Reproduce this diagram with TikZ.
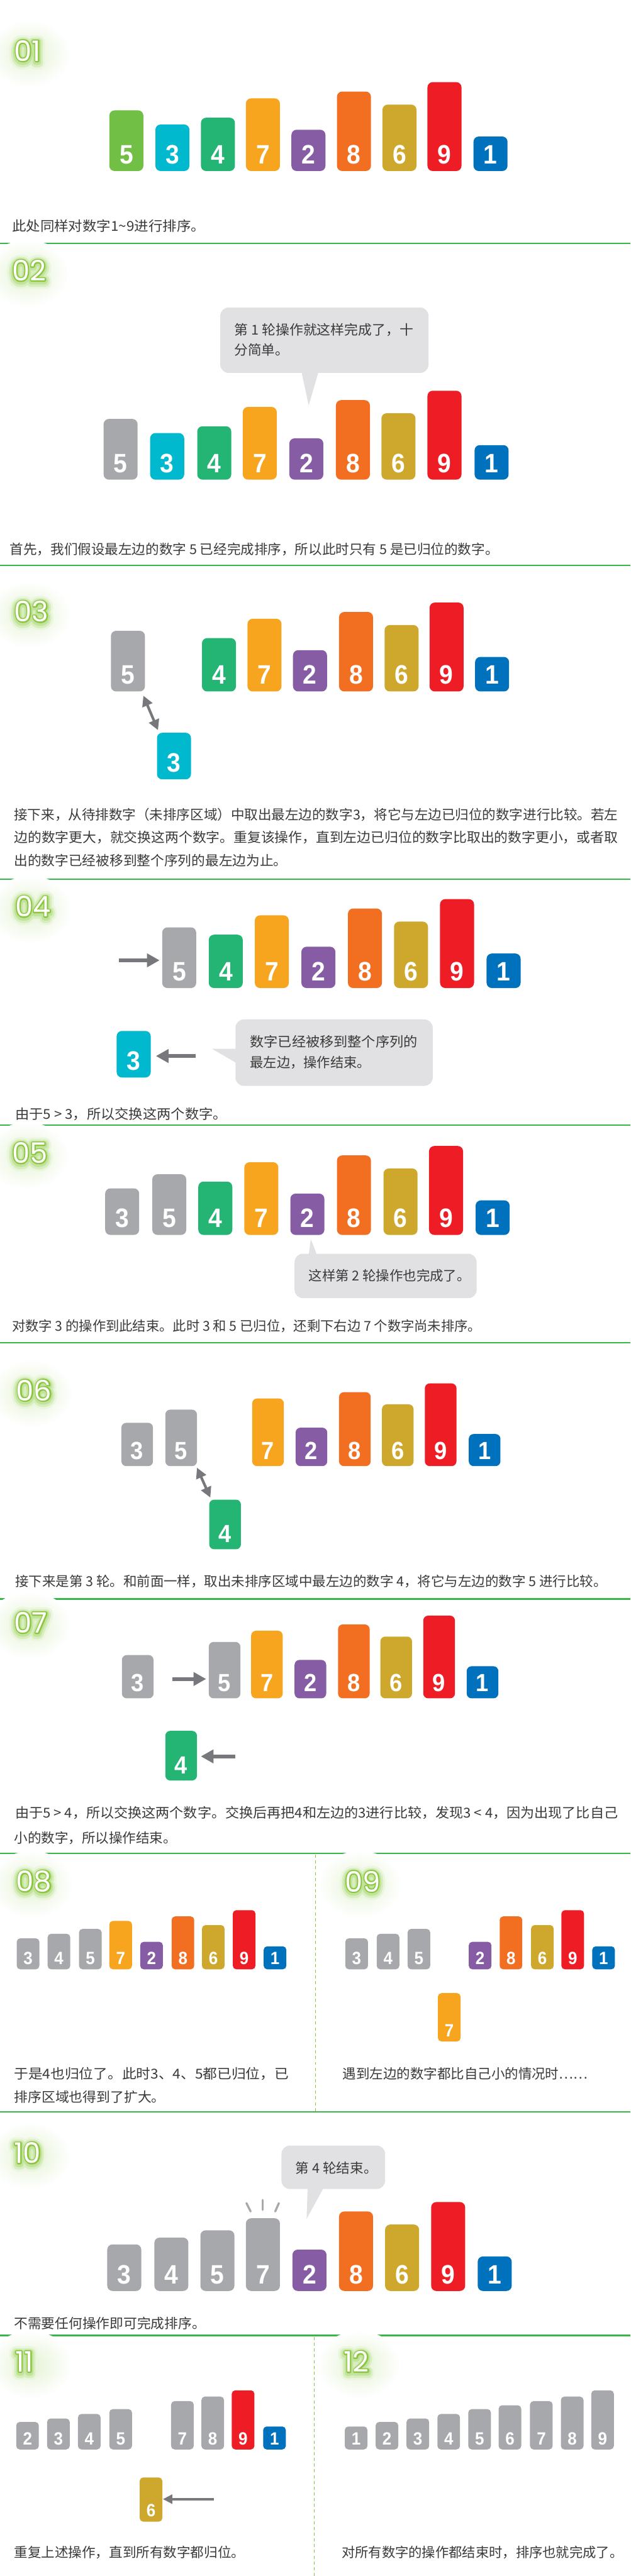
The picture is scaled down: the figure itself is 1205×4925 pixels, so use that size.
\documentclass[tikz,border=0pt]{standalone}
\usepackage{fontspec}
\usepackage{graphicx}
\usetikzlibrary{arrows.meta,calc}
\newfontfamily\cjk{Noto Sans CJK SC}
\newfontfamily\digitfont[FakeStretch=0.92]{Liberation Sans}
\newfontfamily\labfont{Poppins}
\definecolor{c1}{HTML}{0071BC}
\definecolor{c2}{HTML}{865CA5}
\definecolor{c3}{HTML}{00B9CE}
\definecolor{c4}{HTML}{24B473}
\definecolor{c5}{HTML}{71BF44}
\definecolor{c6}{HTML}{CEA82C}
\definecolor{c7}{HTML}{F7A51E}
\definecolor{c8}{HTML}{F26F22}
\definecolor{c9}{HTML}{EE1C25}
\definecolor{bargray}{HTML}{A7A8AB}
\definecolor{arrgray}{HTML}{77787B}
\definecolor{bubgray}{HTML}{E1E1E3}
\definecolor{txt}{HTML}{3A3A3A}
\definecolor{sepgreen}{HTML}{39B54A}
\definecolor{dashgreen}{HTML}{8DC63F}
\definecolor{glow}{HTML}{E4F3D4}
\newcommand\barh[1]{\ifcase#1 0\or66\or79\or89\or102\or116\or127\or139\or152\or170\fi}
% name, x, bottom, digit, colour, scale
\newcommand\nbar[6]{%
  \pgfmathsetmacro\nbW{65*#6}%
  \pgfmathsetmacro\nbH{\barh{#4}*#6}%
  \pgfmathsetmacro\nbR{10*#6}%
  \pgfmathsetmacro\nbO{14*#6}%
  \pgfmathsetmacro\nbF{51*#6}%
  \node[numbar, fill=#5, minimum width=\nbW pt, minimum height=\nbH pt, rounded corners=\nbR pt] (#1) at (#2,#3) {};
  \node[digitlab, font={\digitfont\bfseries\fontsize{\nbF}{\nbF}\selectfont}] (#1t) at ([yshift=\nbO pt]#1.south) {#4};
}
\newcommand\fitw[2]{\resizebox{#1pt}{\height}{#2}}
% stroked-only text: width, stroke rgb, text
\newcommand\strk[3]{\special{pdf:literal direct 1 Tr #1 w 1 j #2 RG}#3\special{pdf:literal direct 0 Tr}}
% name, x(west), y(centre), text
\newcommand\seclab[4]{%
  \shade[inner color=glow, outer color=white] (#2+29,#3+6) ellipse (80 and 64);
  \node[seclabel] (#1g1) at (#2,#3+3) {\strk{26}{0.92 0.965 0.87}{#4}};
  \node[seclabel] (#1g2) at (#2,#3+3) {\strk{18}{0.85 0.935 0.75}{#4}};
  \node[seclabel] (#1g3) at (#2,#3+2) {\strk{11}{0.76 0.89 0.61}{#4}};
  \node[seclabel] (#1o) at (#2,#3) {\strk{4.6}{0.549 0.776 0.247}{#4}};
  \node[seclabel,text=white] (#1) at (#2,#3) {#4};
}
\begin{document}
\begin{tikzpicture}[x=1pt,y=-1pt,
  numbar/.style={rectangle, draw=none, inner sep=0pt, outer sep=0pt, anchor=south west},
  digitlab/.style={anchor=base, inner sep=0pt, outer sep=0pt, text=white},
  captxt/.style={anchor=base west, inner sep=0pt, outer sep=0pt, text=txt, font=\cjk\fontsize{26}{30}\selectfont},
  seclabel/.style={anchor=west, inner sep=0pt, outer sep=0pt, font=\labfont\fontsize{54}{54}\selectfont},
  bubble/.style={fill=bubgray, rounded corners=16pt, draw=none, inner sep=0pt, outer sep=0pt, anchor=north west},
  bubtail/.style={fill=bubgray, draw=none},
  sepline/.style={draw=sepgreen, line width=2.5pt},
  vdash/.style={draw=dashgreen, line width=1.3pt, dash pattern=on 6pt off 5pt},
  arr/.style={draw=arrgray, line width=7pt, -{Triangle[length=24pt,width=25pt]}},
  thinarr/.style={draw=arrgray, line width=4.5pt, -{Triangle[length=18pt,width=17pt]}},
  dblarr/.style={draw=arrgray, line width=5pt, {Triangle[length=20pt,width=20pt]}-{Triangle[length=20pt,width=20pt]}},
  spark/.style={draw=bargray, line width=4pt, line cap=round}
]
\useasboundingbox (0,0) rectangle (1205,4925);
\fill[white] (0,0) rectangle (1205,4925);

% separators
\foreach \yy in {465,1081,1681,2151,2567,3057,3543,4038,4465}{\draw[sepline] (0,\yy) -- (1205,\yy);}
\draw[vdash] (603,3546) -- (603,4036);
\draw[vdash] (601,4468) -- (601,4925);

% ===== 01 =====
\seclab{L1}{27}{97}{01}
\nbar{s1b5}{209}{327}{5}{c5}{1}
\nbar{s1b3}{297}{327}{3}{c3}{1}
\nbar{s1b4}{384}{327}{4}{c4}{1}
\nbar{s1b7}{470}{327}{7}{c7}{1}
\nbar{s1b2}{557}{327}{2}{c2}{1}
\nbar{s1b8}{644}{327}{8}{c8}{1}
\nbar{s1b6}{731}{327}{6}{c6}{1}
\nbar{s1b9}{817}{327}{9}{c9}{1}
\nbar{s1b1}{905}{327}{1}{c1}{1}
\node[captxt] (t1) at (23,442) {\fitw{369}{此处同样对数字1\textasciitilde9进行排序。}};

% ===== 02 =====
\seclab{L2}{23}{517}{02}
\node[bubble, minimum width=398pt, minimum height=125pt] (b2) at (421,588) {};
\fill[bubtail] (576,710) -- (609,710) -- (590,775) -- cycle;
\node[captxt] (b2t1) at (448,640) {\fitw{342}{第 1 轮操作就这样完成了，十}};
\node[captxt] (b2t2) at (448,679) {分简单。};
\nbar{s2b5}{198}{917}{5}{bargray}{1}
\nbar{s2b3}{287}{917}{3}{c3}{1}
\nbar{s2b4}{377}{917}{4}{c4}{1}
\nbar{s2b7}{464}{917}{7}{c7}{1}
\nbar{s2b2}{553}{917}{2}{c2}{1}
\nbar{s2b8}{642}{917}{8}{c8}{1}
\nbar{s2b6}{729}{917}{6}{c6}{1}
\nbar{s2b9}{817}{917}{9}{c9}{1}
\nbar{s2b1}{907}{917}{1}{c1}{1}
\node[captxt] (t2) at (19,1060) {\fitw{934}{首先，我们假设最左边的数字 5 已经完成排序，所以此时只有 5 是已归位的数字。}};

% ===== 03 =====
\seclab{L3}{27}{1169}{03}
\nbar{s3b5}{212}{1322}{5}{bargray}{1}
\nbar{s3b4}{386}{1322}{4}{c4}{1}
\nbar{s3b7}{473}{1322}{7}{c7}{1}
\nbar{s3b2}{560}{1322}{2}{c2}{1}
\nbar{s3b8}{648}{1322}{8}{c8}{1}
\nbar{s3b6}{735}{1322}{6}{c6}{1}
\nbar{s3b9}{821}{1322}{9}{c9}{1}
\nbar{s3b1}{908}{1322}{1}{c1}{1}
\nbar{s3b3}{300}{1490}{3}{c3}{1}
\draw[dblarr] ([shift={(-3,8)}]s3b5.south east) -- ([shift={(2,-5)}]s3b3.north west);
\node[captxt] (t3a) at (27,1567) {\fitw{1154}{接下来，从待排数字（未排序区域）中取出最左边的数字3，将它与左边已归位的数字进行比较。若左}};
\node[captxt] (t3b) at (27,1611) {\fitw{1154}{边的数字更大，就交换这两个数字。重复该操作，直到左边已归位的数字比取出的数字更小，或者取}};
\node[captxt] (t3c) at (27,1655) {\fitw{522}{出的数字已经被移到整个序列的最左边为止。}};

% ===== 04 =====
\seclab{L4}{29}{1733}{04}
\nbar{s4b5}{310}{1889}{5}{bargray}{1}
\nbar{s4b4}{399}{1889}{4}{c4}{1}
\nbar{s4b7}{487}{1889}{7}{c7}{1}
\nbar{s4b2}{576}{1889}{2}{c2}{1}
\nbar{s4b8}{665}{1889}{8}{c8}{1}
\nbar{s4b6}{753}{1889}{6}{c6}{1}
\nbar{s4b9}{841}{1889}{9}{c9}{1}
\nbar{s4b1}{930}{1889}{1}{c1}{1}
\nbar{s4b3}{223}{2060}{3}{c3}{1}
\coordinate (a4s) at (227,1836);
\draw[arr, shorten >=5pt] (a4s) -- (a4s -| s4b5.west);
\coordinate (a4t) at (374,2019);
\draw[arr, shorten >=10pt] (a4t) -- (a4t -| s4b3.east);
\node[bubble, minimum width=377pt, minimum height=127pt] (b4) at (450,1949) {};
\fill[bubtail] (453,2005) -- (405,2005) -- (453,2033) -- cycle;
\node[captxt] (b4t1) at (478,2001) {\fitw{320}{数字已经被移到整个序列的}};
\node[captxt] (b4t2) at (478,2041) {\fitw{230}{最左边，操作结束。}};
\node[captxt] (t4) at (29,2140) {\fitw{405}{由于5 > 3，所以交换这两个数字。}};

% ===== 05 =====
\seclab{L5}{23}{2204}{05}
\nbar{s5b3}{201}{2361}{3}{bargray}{1}
\nbar{s5b5}{291}{2361}{5}{bargray}{1}
\nbar{s5b4}{379}{2361}{4}{c4}{1}
\nbar{s5b7}{467}{2361}{7}{c7}{1}
\nbar{s5b2}{555}{2361}{2}{c2}{1}
\nbar{s5b8}{644}{2361}{8}{c8}{1}
\nbar{s5b6}{733}{2361}{6}{c6}{1}
\nbar{s5b9}{820}{2361}{9}{c9}{1}
\nbar{s5b1}{909}{2361}{1}{c1}{1}
\node[bubble, minimum width=348pt, minimum height=85pt] (b5) at (563,2397) {};
\fill[bubtail] (590,2400) -- (594,2369) -- (606,2400) -- cycle;
\node[captxt] (b5t1) at (590,2449) {\fitw{309}{这样第 2 轮操作也完成了。}};
\node[captxt] (t5) at (23,2545) {\fitw{897}{对数字 3 的操作到此结束。此时 3 和 5 已归位，还剩下右边 7 个数字尚未排序。}};

% ===== 06 =====
\seclab{L6}{31}{2658}{06}
\nbar{s6b3}{232}{2803}{3}{bargray}{0.93}
\nbar{s6b5}{316}{2803}{5}{bargray}{0.93}
\nbar{s6b7}{482}{2803}{7}{c7}{0.93}
\nbar{s6b2}{565}{2803}{2}{c2}{0.93}
\nbar{s6b8}{648}{2803}{8}{c8}{0.93}
\nbar{s6b6}{730}{2803}{6}{c6}{0.93}
\nbar{s6b9}{812}{2803}{9}{c9}{0.93}
\nbar{s6b1}{896}{2803}{1}{c1}{0.93}
\nbar{s6b4}{400}{2962}{4}{c4}{0.93}
\draw[dblarr] ([shift={(0,3)}]s6b5.south east) -- ([shift={(2,-4)}]s6b4.north west);
\node[captxt] (t6) at (29,3033) {\fitw{1131}{接下来是第 3 轮。和前面一样，取出未排序区域中最左边的数字 4，将它与左边的数字 5 进行比较。}};

% ===== 07 =====
\seclab{L7}{27}{3102}{07}
\nbar{s7b3}{233}{3247}{3}{bargray}{0.93}
\nbar{s7b5}{399}{3247}{5}{bargray}{0.93}
\nbar{s7b7}{480}{3247}{7}{c7}{0.93}
\nbar{s7b2}{563}{3247}{2}{c2}{0.93}
\nbar{s7b8}{646}{3247}{8}{c8}{0.93}
\nbar{s7b6}{727}{3247}{6}{c6}{0.93}
\nbar{s7b9}{809}{3247}{9}{c9}{0.93}
\nbar{s7b1}{892}{3247}{1}{c1}{0.93}
\nbar{s7b4}{316}{3404}{4}{c4}{0.93}
\coordinate (a7s) at (329,3210);
\draw[arr, shorten >=5pt] (a7s) -- (a7s -| s7b5.west);
\coordinate (a7t) at (450,3358);
\draw[arr, shorten >=7.5pt] (a7t) -- (a7t -| s7b4.east);
\node[captxt] (t7a) at (29,3475) {\fitw{1152}{由于5 > 4，所以交换这两个数字。交换后再把4和左边的3进行比较，发现3 < 4，因为出现了比自己}};
\node[captxt] (t7b) at (27,3523) {\fitw{311}{小的数字，所以操作结束。}};

% ===== 08 =====
\seclab{L8}{31}{3597}{08}
\nbar{s8b3}{32}{3765}{3}{bargray}{0.665}
\nbar{s8b4}{91}{3765}{4}{bargray}{0.665}
\nbar{s8b5}{151}{3765}{5}{bargray}{0.665}
\nbar{s8b7}{209}{3765}{7}{c7}{0.665}
\nbar{s8b2}{268}{3765}{2}{c2}{0.665}
\nbar{s8b8}{328}{3765}{8}{c8}{0.665}
\nbar{s8b6}{386}{3765}{6}{c6}{0.665}
\nbar{s8b9}{445}{3765}{9}{c9}{0.665}
\nbar{s8b1}{504}{3765}{1}{c1}{0.665}
\node[captxt] (t8a) at (27,3974) {\fitw{525}{于是4也归位了。此时3、4、5都已归位，已}};
\node[captxt] (t8b) at (27,4019) {\fitw{289}{排序区域也得到了扩大。}};

% ===== 09 =====
\seclab{L9}{659}{3597}{09}
\nbar{s9b3}{660}{3765}{3}{bargray}{0.665}
\nbar{s9b4}{720}{3765}{4}{bargray}{0.665}
\nbar{s9b5}{779}{3765}{5}{bargray}{0.665}
\nbar{s9b2}{896}{3765}{2}{c2}{0.665}
\nbar{s9b8}{955}{3765}{8}{c8}{0.665}
\nbar{s9b6}{1015}{3765}{6}{c6}{0.665}
\nbar{s9b9}{1073}{3765}{9}{c9}{0.665}
\nbar{s9b1}{1132}{3765}{1}{c1}{0.665}
\nbar{s9b7}{837}{3903}{7}{c7}{0.665}
\node[captxt] (t9) at (655,3974) {\fitw{468}{遇到左边的数字都比自己小的情况时……}};

% ===== 10 =====
\seclab{L10}{27}{4116}{10}
\node[bubble, minimum width=198pt, minimum height=83pt] (b10) at (538,4102) {};
\fill[bubtail] (588,4182) -- (586,4242) -- (619,4182) -- cycle;
\node[captxt] (b10t) at (565,4155) {\fitw{156}{第 4 轮结束。}};
\nbar{s10b3}{205}{4380}{3}{bargray}{1}
\nbar{s10b4}{295}{4380}{4}{bargray}{1}
\nbar{s10b5}{383}{4380}{5}{bargray}{1}
\nbar{s10b7}{470}{4380}{7}{bargray}{1}
\nbar{s10b2}{559}{4380}{2}{c2}{1}
\nbar{s10b8}{648}{4380}{8}{c8}{1}
\nbar{s10b6}{736}{4380}{6}{c6}{1}
\nbar{s10b9}{824}{4380}{9}{c9}{1}
\nbar{s10b1}{913}{4380}{1}{c1}{1}
\draw[spark] (471,4212) -- (479,4228);
\draw[spark] (502,4206) -- (502,4225);
\draw[spark] (533,4212) -- (526,4228);
\node[captxt] (t10) at (27,4452) {\fitw{366}{不需要任何操作即可完成排序。}};

% ===== 11 =====
\seclab{L11}{29}{4515}{11}
\nbar{s11b2}{31}{4683}{2}{bargray}{0.665}
\nbar{s11b3}{90}{4683}{3}{bargray}{0.665}
\nbar{s11b4}{149}{4683}{4}{bargray}{0.665}
\nbar{s11b5}{209}{4683}{5}{bargray}{0.665}
\nbar{s11b7}{327}{4683}{7}{bargray}{0.665}
\nbar{s11b8}{385}{4683}{8}{bargray}{0.665}
\nbar{s11b9}{443}{4683}{9}{c9}{0.665}
\nbar{s11b1}{503}{4683}{1}{c1}{0.665}
\nbar{s11b6}{267}{4821}{6}{c6}{0.665}
\coordinate (a11) at (409,4778);
\draw[thinarr, shorten >=1pt] (a11) -- (a11 -| s11b6.east);
\node[captxt] (t11) at (27,4890) {\fitw{441}{重复上述操作，直到所有数字都归位。}};

% ===== 12 =====
\seclab{L12}{657}{4515}{12}
\nbar{s12b1}{659}{4683}{1}{bargray}{0.665}
\nbar{s12b2}{718}{4683}{2}{bargray}{0.665}
\nbar{s12b3}{777}{4683}{3}{bargray}{0.665}
\nbar{s12b4}{836}{4683}{4}{bargray}{0.665}
\nbar{s12b5}{895}{4683}{5}{bargray}{0.665}
\nbar{s12b6}{953}{4683}{6}{bargray}{0.665}
\nbar{s12b7}{1013}{4683}{7}{bargray}{0.665}
\nbar{s12b8}{1072}{4683}{8}{bargray}{0.665}
\nbar{s12b9}{1130}{4683}{9}{bargray}{0.665}
\node[captxt] (t12) at (653,4890) {\fitw{538}{对所有数字的操作都结束时，排序也就完成了。}};
\end{tikzpicture}
\end{document}
